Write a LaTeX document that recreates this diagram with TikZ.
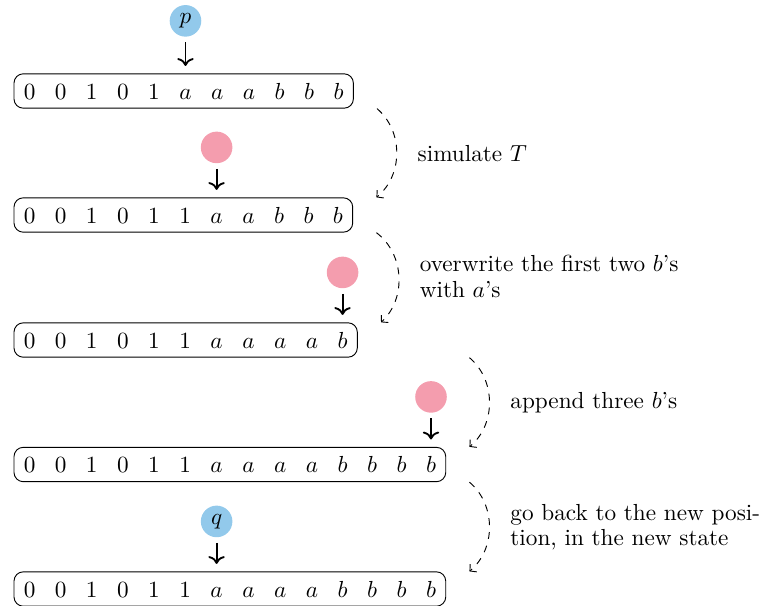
\documentclass[tikz,border=0pt]{standalone}
\usetikzlibrary{positioning,fit,arrows.meta}

\definecolor{stateblue}{RGB}{146,201,235}
\definecolor{statepink}{RGB}{244,157,174}

\tikzset{
    cell/.style={inner xsep=4.2pt, inner ysep=0pt, outer sep=0pt, minimum height=14.8pt, text height=6.9pt, text depth=0pt},
    tape/.style={draw, rounded corners=4pt, inner sep=0pt},
    headnode/.style={circle, inner sep=0pt, minimum size=13.6pt},
    headarrow/.style={->, thick, shorten <=2.2pt, shorten >=3.4pt},
    flow/.style={-{Straight Barb[length=2pt,width=4.4pt]}, dashed},
    note/.style={right=5.5pt, align=left, font=\fontsize{10pt}{10.8pt}\selectfont}
}

\begin{document}
\begin{tikzpicture}[x=0.4306pt, y=-0.4306pt]

    \useasboundingbox (0,0) rectangle (765,606);

    % tapes
    \coordinate (c1-0) at (14,91);
    \foreach \s [count=\i, remember=\i as \j (initially 0)] in {0,0,1,0,1,a,a,a,b,b,b}
        \node[cell, right=0pt of c1-\j] (c1-\i) {$\s$};
    \node[tape, fit=(c1-1)(c1-11)] (t1) {};

    \coordinate (c2-0) at (14,215);
    \foreach \s [count=\i, remember=\i as \j (initially 0)] in {0,0,1,0,1,1,a,a,b,b,b}
        \node[cell, right=0pt of c2-\j] (c2-\i) {$\s$};
    \node[tape, fit=(c2-1)(c2-11)] (t2) {};

    \coordinate (c3-0) at (14,340);
    \foreach \s [count=\i, remember=\i as \j (initially 0)] in {0,0,1,0,1,1,a,a,a,a,b}
        \node[cell, right=0pt of c3-\j] (c3-\i) {$\s$};
    \node[tape, fit=(c3-1)(c3-11)] (t3) {};

    \coordinate (c4-0) at (14,464.5);
    \foreach \s [count=\i, remember=\i as \j (initially 0)] in {0,0,1,0,1,1,a,a,a,a,b,b,b,b}
        \node[cell, right=0pt of c4-\j] (c4-\i) {$\s$};
    \node[tape, fit=(c4-1)(c4-14)] (t4) {};

    \coordinate (c5-0) at (14,589);
    \foreach \s [count=\i, remember=\i as \j (initially 0)] in {0,0,1,0,1,1,a,a,a,a,b,b,b,b}
        \node[cell, right=0pt of c5-\j] (c5-\i) {$\s$};
    \node[tape, fit=(c5-1)(c5-14)] (t5) {};

    % heads
    \node[headnode, fill=stateblue, above=15.8pt of c1-6] (h1) {$p$};
    \node[headnode, fill=statepink, above=14.7pt of c2-7] (h2) {};
    \node[headnode, fill=statepink, above=14.7pt of c3-11] (h3) {};
    \node[headnode, fill=statepink, above=14.7pt of c4-14] (h4) {};
    \node[headnode, fill=stateblue, above=14.7pt of c5-7] (h5) {$q$};

    \draw[headarrow] (h1) -- (c1-6);
    \draw[headarrow] (h2) -- (c2-7);
    \draw[headarrow] (h3) -- (c3-11);
    \draw[headarrow] (h4) -- (c4-14);
    \draw[headarrow] (h5) -- (c5-7);

    % steps
    \coordinate (s3) at (t3.south -| t4.east);
    \draw[flow] ([xshift=10pt]t1.south east) to[bend left=50] node[note] {simulate $T$} ([xshift=10pt]t2.north east);
    \draw[flow] ([xshift=10pt]t2.south east) to[bend left=50] node[note] {overwrite the first two $b$'s\\with $a$'s} ([xshift=10pt]t3.north east);
    \draw[flow] ([xshift=10pt]s3) to[bend left=50] node[note] {append three $b$'s} ([xshift=10pt]t4.north east);
    \draw[flow] ([xshift=10pt]t4.south east) to[bend left=50] node[note] {go back to the new posi-\\tion, in the new state} ([xshift=10pt]t5.north east);

\end{tikzpicture}
\end{document}
